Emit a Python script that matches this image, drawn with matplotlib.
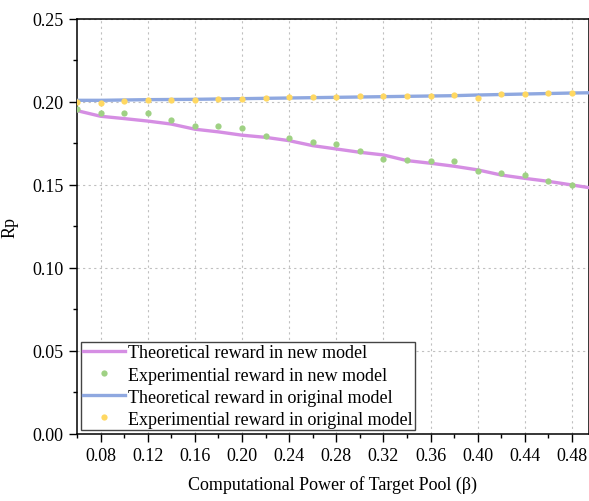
import numpy as np
import matplotlib.pyplot as plt
from matplotlib.ticker import MultipleLocator

plt.rcParams['font.family'] = ['Liberation Serif', 'DejaVu Serif']

# theoretical curves
beta_line = [0.06, 0.08, 0.10, 0.12, 0.14, 0.16, 0.18, 0.20, 0.22, 0.24, 0.26, 0.28,
             0.30, 0.32, 0.34, 0.36, 0.38, 0.40, 0.42, 0.44, 0.46, 0.48, 0.50]
theo_new = [0.1948, 0.1914, 0.1900, 0.1885, 0.1867, 0.1836, 0.1820, 0.1800, 0.1787, 0.1767,
            0.1737, 0.1717, 0.1697, 0.1681, 0.1647, 0.1631, 0.1613, 0.1591, 0.1560, 0.1540,
            0.1522, 0.1500, 0.1478]
theo_orig = [0.2010, 0.2010, 0.2012, 0.2014, 0.2015, 0.2016, 0.2018, 0.2020, 0.2022, 0.2024,
             0.2026, 0.2028, 0.2030, 0.2032, 0.2034, 0.2036, 0.2038, 0.2042, 0.2045, 0.2048,
             0.2051, 0.2054, 0.2056]

# experimental points
beta_pts = [0.06, 0.08, 0.10, 0.12, 0.14, 0.16, 0.18, 0.20, 0.22, 0.24, 0.26, 0.28,
            0.30, 0.32, 0.34, 0.36, 0.38, 0.40, 0.42, 0.44, 0.46, 0.48]
exp_new = [0.1958, 0.1932, 0.1934, 0.1936, 0.1892, 0.1854, 0.1856, 0.1842, 0.1793, 0.1783,
           0.1757, 0.1747, 0.1703, 0.1655, 0.1649, 0.1643, 0.1645, 0.1586, 0.1570, 0.1560,
           0.1524, 0.1500]
exp_orig = [0.1998, 0.1994, 0.2008, 0.2010, 0.2014, 0.2014, 0.2016, 0.2020, 0.2022, 0.2028,
            0.2030, 0.2030, 0.2034, 0.2036, 0.2038, 0.2038, 0.2042, 0.2022, 0.2046, 0.2050,
            0.2052, 0.2054]

fig = plt.figure(figsize=(5.89, 5.02), dpi=100)
ax = fig.add_axes([0.1307, 0.1335, 0.8693, 0.8267])

ax.plot(beta_line, theo_new, color='#d58ee3', lw=2.4, label='Theoretical reward in new model', zorder=3)
ax.plot(beta_pts, exp_new, 'o', color='#9fd184', ms=4.5, mec='none', label='Experimential reward in new model', zorder=4)
ax.plot(beta_line, theo_orig, color='#8fa8e0', lw=2.4, label='Theoretical reward in original model', zorder=3)
ax.plot(beta_pts, exp_orig, 'o', color='#ffd862', ms=4.5, mec='none', label='Experimential reward in original model', zorder=4)

ax.set_xlim(0.06, 0.4945)
ax.set_ylim(0, 0.25)
ax.xaxis.set_minor_locator(MultipleLocator(0.02))
ax.yaxis.set_major_locator(MultipleLocator(0.05))
ax.yaxis.set_minor_locator(MultipleLocator(0.025))
ax.set_xticks(np.arange(0.08, 0.49, 0.04))
ax.set_xticklabels(['%.2f' % v for v in np.arange(0.08, 0.49, 0.04)])
ax.yaxis.set_major_formatter(plt.FormatStrFormatter('%.2f'))

ax.tick_params(which='major', direction='out', length=6, width=1, labelsize=13)
ax.tick_params(which='minor', direction='out', length=3, width=1)
ax.grid(True, which='major', ls=(0, (2, 3)), color='#c0c0c0', lw=0.8)
for s in ax.spines.values():
    s.set_linewidth(1.1)

ax.set_xlabel('Computational Power of Target Pool (β)', fontsize=13, labelpad=8)
ax.set_ylabel('Rp', fontsize=13, labelpad=10)

leg = ax.legend(loc='lower left', fontsize=13, frameon=True, fancybox=False,
                edgecolor='#444444', framealpha=1, handlelength=2.3, handletextpad=0.15,
                borderpad=0.15, labelspacing=0.28, borderaxespad=0.2)
leg.get_frame().set_linewidth(1)

fig.savefig('out.png', dpi=100)
